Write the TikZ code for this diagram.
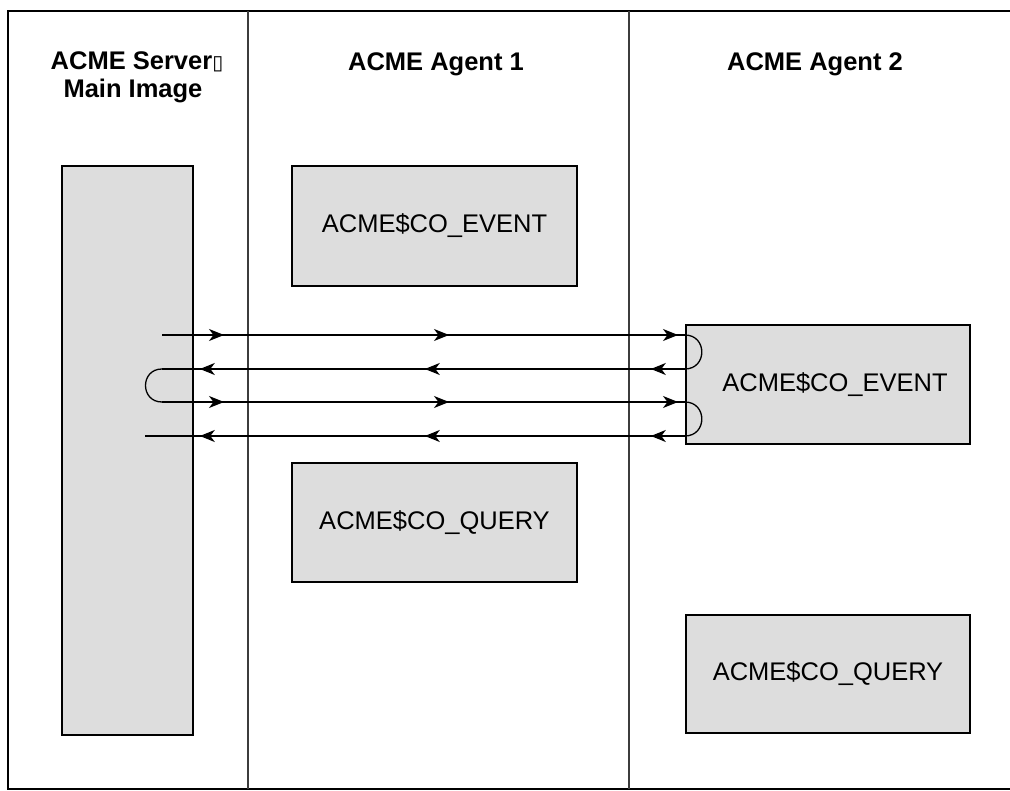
\documentclass[tikz,border=0pt]{standalone}
\usepackage{fontspec}
\setmainfont{Liberation Sans}
\newfontfamily\dejavu{DejaVu Sans}
\usetikzlibrary{arrows.meta,decorations.markings}
\definecolor{boxgray}{RGB}{221,221,221}
\definecolor{divgray}{RGB}{60,60,60}
\tikzset{
  box/.style={draw=black,line width=2.4pt,fill=boxgray,inner sep=0pt,
    font=\fontsize{25.5}{30}\selectfont},
  head/.style={font=\bfseries\fontsize{25.5}{30}\selectfont,anchor=base,inner sep=0pt},
  conn/.style={line width=1.3pt},
  tipA/.tip={Stealth[length=15pt,width=12pt,inset=4.5pt]},
  rightarr/.style={conn,postaction={decorate},decoration={markings,
    mark=at position 62pt with {\arrow{tipA}},
    mark=at position 287pt with {\arrow{tipA}},
    mark=at position 516pt with {\arrow{tipA}}}},
  leftarr/.style={conn,postaction={decorate},decoration={markings,
    mark=at position 34pt with {\arrow{tipA}},
    mark=at position 260pt with {\arrow{tipA}},
    mark=at position 485pt with {\arrow{tipA}}}},
}
\begin{document}
\begin{tikzpicture}[x=1pt,y=-1pt]
\useasboundingbox (0,0) rectangle (1010,791);
\begin{scope}
\clip (0,0) rectangle (1010,791);
\draw[line width=2.8pt] (8,11) rectangle (1016,789);
\end{scope}
\draw[divgray,line width=1.2pt] (248,11) -- (248,789);
\draw[divgray,line width=1.2pt] (629,11) -- (629,789);

\node[head] (h1) at (137,70) {ACME Server{\dejavu\mdseries\fontsize{20}{24}\selectfont ▯}};
\node[head] (h1b) at (133,98) {Main Image};
\node[head] (h2) at (436,71) {ACME Agent 1};
\node[head] (h3) at (815,71) {ACME Agent 2};

\node[box,minimum width=131pt,minimum height=569pt] (srv) at (127.5,450.5) {};
\node[box,minimum width=285pt,minimum height=120pt] (ev1) at (434.5,226) {ACME\$CO\_EVENT};
\node[box,minimum width=285pt,minimum height=119pt] (q1) at (434.5,522.5) {ACME\$CO\_QUERY};
\node[box,minimum width=284pt,minimum height=119pt] (ev2) at (828,384.5) {\hspace{14pt}ACME\$CO\_EVENT};
\node[box,minimum width=284pt,minimum height=118pt] (q2) at (828,674) {ACME\$CO\_QUERY};

\path (0,335) coordinate (y1) (0,369) coordinate (y2) (0,402) coordinate (y3) (0,436) coordinate (y4);
\coordinate (s1) at (162,335);
\coordinate (l2) at (162,369);
\coordinate (l3) at (162,402);
\coordinate (e4) at (145,436);
\coordinate (r1) at (ev2.west |- y1);
\coordinate (r2) at (ev2.west |- y2);
\coordinate (r3) at (ev2.west |- y3);
\coordinate (r4) at (ev2.west |- y4);

\draw[rightarr] (s1) -- (r1);
\draw[conn] (r1) .. controls +(22.7,0) and +(22.7,0) .. (r2);
\draw[leftarr] (r2) -- (l2);
\draw[conn] (l2) .. controls +(-22,0) and +(-22,0) .. (l3);
\draw[rightarr] (l3) -- (r3);
\draw[conn] (r3) .. controls +(22.7,0) and +(22.7,0) .. (r4);
\draw[leftarr] (r4) -- (e4);
\end{tikzpicture}
\end{document}
